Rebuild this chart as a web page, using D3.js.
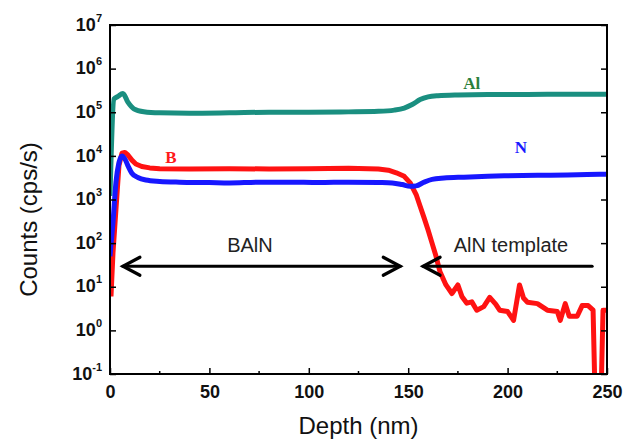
<!DOCTYPE html>
<html>
<head>
<meta charset="utf-8">
<script src="https://cdn.jsdelivr.net/npm/d3@7"></script>
<style>
  body { margin: 0; background: #fff; }
</style>
</head>
<body>
<div id="chart"></div>
<script>
//SIMS depth profile values, [depth nm, counts cps/s]
const alData = [[0, 1200], [2, 2.0e5], [4, 2.3e5], [6.5, 2.7e5], [9, 1.7e5],
    [12, 1.2e5], [17, 1.03e5], [25, 9.7e4], [40, 9.5e4], [60, 9.7e4], [80, 1.0e5], [100, 1.0e5],
    [120, 1.02e5], [135, 1.05e5], [143, 1.12e5], [148, 1.25e5], [152, 1.5e5], [156, 1.95e5],
    [160, 2.25e5], [165, 2.4e5], [175, 2.5e5], [190, 2.55e5], [210, 2.55e5], [230, 2.6e5], [250, 2.6e5]];

const bData = [[0.5, 6], [1.5, 60], [3, 600], [4.5, 6000], [6, 1.15e4], [7.5, 1.2e4], [9, 1.05e4],
    [11, 8000], [13, 6500], [16, 5700], [20, 5300], [25, 5100], [40, 5000], [60, 5100], [80, 5000], [100, 5100],
    [120, 5200], [135, 5000], [140, 4700], [144, 4100], [148, 3400], [151, 2400], [154, 1300],
    [156, 700], [158, 380], [160, 200], [162, 100], [164, 50], [166, 22], [169, 11], [172, 7],
    [175, 11], [177, 6], [179.5, 4.2], [182, 4.5], [184.5, 2.9], [188, 3.5], [191, 5.7], [194, 4],
    [196, 2.9], [200, 2.7], [203, 1.7], [206, 11], [208, 5.5], [210, 4.4], [215, 4.1], [220, 2.9],
    [225, 2.7], [226.5, 1.7], [229, 4.1], [231, 2.1], [235, 2.1], [237.5, 3.7], [240.5, 3.7],
    [243, 2.9], [244, 0.03], [247, 0.03], [248, 2.9], [250, 2.9]];

const nData = [[0, 50], [1.5, 300], [3, 2500], [4.5, 7000], [6, 1.0e4], [7.5, 8500], [9, 6000],
    [11, 4000], [14, 3200], [18, 2800], [25, 2600], [35, 2500], [50, 2450], [60, 2400], [75, 2500],
    [90, 2500], [105, 2450], [120, 2500], [135, 2450], [142, 2400], [147, 2200], [151, 2000],
    [154, 2050], [158, 2500], [162, 2900], [168, 3100], [178, 3250], [190, 3400], [200, 3500],
    [215, 3600], [230, 3650], [240, 3750], [250, 3800]];

//tick values
const xTicks = [0, 50, 100, 150, 200, 250];
const xMinorTicks = [25, 75, 125, 175, 225];
const yExponents = [-1, 0, 1, 2, 3, 4, 5, 6, 7];

//annotations in data units
const seriesLabels = [
    { text: "Al", depth: 182, count: 3.4e5, color: "#2b7f3c" },
    { text: "B", depth: 30.7, count: 6.8e3, color: "#ff1a1a" },
    { text: "N", depth: 206.7, count: 1.15e4, color: "#1a1aff" }
];
const regionArrows = [
    { text: "BAlN", from: 6.5, to: 146, textDepth: 70.4, heads: "both" },
    { text: "AlN template", from: 157.5, to: 242.5, textDepth: 201.7, heads: "left" }
];
const arrowCount = 29.5, arrowTextCount = 62;

//set up SVG dimensions/margins
const margin = { top: 25, right: 19, bottom: 70, left: 110 },
    width = 626 - margin.left - margin.right,
    height = 444 - margin.top - margin.bottom;

const svg = d3.select("#chart")
    .append("svg")
    .attr("width", width + margin.left + margin.right)
    .attr("height", height + margin.top + margin.bottom)
    .append("g")
    .attr("transform", `translate(${margin.left},${margin.top})`);

const x = d3.scaleLinear().domain([0, 250]).range([0, width]);
const y = d3.scaleLog().domain([0.1, 1e7]).range([height, 0]);

svg.append("clipPath").attr("id", "plotClip")
    .append("rect").attr("width", width).attr("height", height);

//curves (B tail is jagged, so straight segments for it)
const smoothLine = d3.line()
    .x(d => x(d[0]))
    .y(d => y(d[1]))
    .curve(d3.curveMonotoneX);
const straightLine = d3.line()
    .x(d => x(d[0]))
    .y(d => y(d[1]));

const curves = svg.append("g").attr("clip-path", "url(#plotClip)");
[[alData, "#1a8f80", smoothLine], [bData, "#ff1212", straightLine], [nData, "#1717ff", smoothLine]].forEach(([data, color, gen]) => {
    curves.append("path")
        .datum(data)
        .attr("fill", "none")
        .attr("stroke", color)
        .attr("stroke-width", 5)
        .attr("stroke-linejoin", "round")
        .attr("d", gen);
});

//X axis
const xAxis = svg.append("g")
    .attr("transform", `translate(0,${height})`)
    .call(d3.axisBottom(x).tickValues(xTicks).tickSizeInner(-6).tickSizeOuter(0).tickPadding(11));
xAxis.select(".domain").remove();
xAxis.selectAll("line").attr("stroke-width", 1.5);
xAxis.selectAll("text")
    .style("font-family", "Liberation Sans, Arial, sans-serif")
    .style("font-size", "18px")
    .style("font-weight", "bold")
    .attr("fill", "#111");

//minor x ticks
svg.append("g")
    .selectAll("line")
    .data(xMinorTicks)
    .enter().append("line")
    .attr("x1", d => x(d)).attr("x2", d => x(d))
    .attr("y1", height).attr("y2", height - 3)
    .attr("stroke", "black").attr("stroke-width", 1.5);

//Y axis with 10^n labels
const yTickValues = yExponents.map(e => Math.pow(10, e));
const yAxis = svg.append("g")
    .call(d3.axisLeft(y).tickValues(yTickValues).tickSizeInner(-6).tickSizeOuter(0).tickPadding(8));
yAxis.select(".domain").remove();
yAxis.selectAll("line").attr("stroke-width", 1.5);
yAxis.selectAll(".tick text")
    .text(null)
    .attr("dy", "0.52em")
    .style("font-family", "Liberation Sans, Arial, sans-serif")
    .style("font-weight", "bold")
    .attr("fill", "#111")
    .each(function (d) {
        const t = d3.select(this);
        const e = Math.round(Math.log10(d));
        t.append("tspan").style("font-size", "18px").text("10");
        t.append("tspan").style("font-size", "11px").attr("dy", "-9").text(e);
    });

//right side ticks
const yRight = svg.append("g")
    .attr("transform", `translate(${width},0)`)
    .call(d3.axisRight(y).tickValues(yTickValues).tickSizeInner(-6).tickSizeOuter(0).tickFormat(""));
yRight.select(".domain").remove();
yRight.selectAll("line").attr("stroke-width", 1.5);

//frame
svg.append("rect")
    .attr("width", width)
    .attr("height", height)
    .attr("fill", "none")
    .attr("stroke", "black")
    .attr("stroke-width", 2);

//series labels
svg.selectAll(".series-label")
    .data(seriesLabels)
    .enter().append("text")
    .attr("class", "series-label")
    .attr("x", d => x(d.depth))
    .attr("y", d => y(d.count))
    .attr("text-anchor", "middle")
    .attr("fill", d => d.color)
    .style("font-family", "Liberation Serif, Times New Roman, serif")
    .style("font-weight", "bold")
    .style("font-size", "17px")
    .text(d => d.text);

//region arrows
function chevron(px, py, dir) {
    return `M${px + dir * 17},${py - 9}L${px},${py}L${px + dir * 17},${py + 9}`;
}
regionArrows.forEach(a => {
    const yy = y(arrowCount);
    const g = svg.append("g")
        .attr("stroke", "black")
        .attr("stroke-width", 3.2)
        .attr("fill", "none")
        .attr("stroke-linecap", "round")
        .attr("stroke-linejoin", "miter");
    g.append("line")
        .attr("x1", x(a.from)).attr("x2", x(a.to))
        .attr("y1", yy).attr("y2", yy);
    g.append("path").attr("d", chevron(x(a.from), yy, 1));
    if (a.heads === "both") g.append("path").attr("d", chevron(x(a.to), yy, -1));
    svg.append("text")
        .attr("x", x(a.textDepth))
        .attr("y", y(arrowTextCount))
        .attr("text-anchor", "middle")
        .attr("fill", "#222")
        .style("font-family", "Liberation Sans, Arial, sans-serif")
        .style("font-size", "20px")
        .text(a.text);
});

//axis titles
svg.append("text")
    .attr("x", width / 2)
    .attr("y", height + 60)
    .attr("text-anchor", "middle")
    .style("font-family", "Liberation Sans, Arial, sans-serif")
    .style("font-size", "24px")
    .attr("fill", "#111")
    .text("Depth (nm)");

svg.append("text")
    .attr("transform", `translate(${-margin.left + 37},${y(1e3) + 20}) rotate(-90)`)
    .attr("text-anchor", "middle")
    .style("font-family", "Liberation Sans, Arial, sans-serif")
    .style("font-size", "24px")
    .attr("fill", "#111")
    .text("Counts (cps/s)");
</script>
</body>
</html>
